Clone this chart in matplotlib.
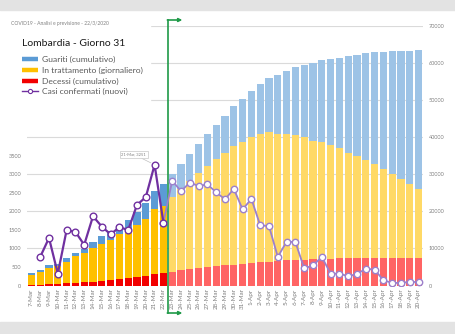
import matplotlib
matplotlib.use('Agg')
import matplotlib.pyplot as plt
import numpy as np
from matplotlib.lines import Line2D
from matplotlib.patches import Rectangle
from matplotlib.transforms import blended_transform_factory

# Lombardia: dati reali fino al 22-Mar, poi previsione
giorni = ['7-Mar', '8-Mar', '9-Mar', '10-Mar', '11-Mar', '12-Mar', '13-Mar', '14-Mar',
          '15-Mar', '16-Mar', '17-Mar', '18-Mar', '19-Mar', '20-Mar', '21-Mar', '22-Mar',
          '23-Mar', '24-Mar', '25-Mar', '26-Mar', '27-Mar', '28-Mar', '29-Mar', '30-Mar',
          '31-Mar', '1-Apr', '2-Apr', '3-Apr', '4-Apr', '5-Apr', '6-Apr', '7-Apr', '8-Apr',
          '9-Apr', '10-Apr', '11-Apr', '12-Apr', '13-Apr', '14-Apr', '15-Apr', '16-Apr',
          '17-Apr', '18-Apr', '19-Apr', '20-Apr']
n_reali = 16

guariti = [524, 550, 646, 646, 896, 900, 1198, 1660, 2011, 2368, 2485, 2988, 3488, 4235, 4907, 5865,
           6050, 6770, 7260, 7820, 8450, 9160, 9800, 10600, 11510, 12400, 13480, 14450, 15630,
           16900, 18240, 19300, 20940, 21910, 23100, 24370, 25870, 27150, 28650, 30110, 31590,
           33120, 34400, 35670, 37320]
in_trattamento = [2742, 3372, 4490, 4677, 5767, 7081, 7732, 9059, 10043, 10861, 12095, 12766,
                  14228, 15480, 17513, 17885,
                  20150, 21850, 23760, 25620, 27410, 28950, 30400, 31960, 32890, 34020, 34480,
                  34850, 34320, 34090, 33780, 32960, 31860, 31500, 30620, 29670, 28440, 27500,
                  26400, 25300, 23880, 22420, 21130, 19960, 18470]
decessi = [154, 267, 333, 468, 617, 744, 890, 966, 1218, 1420, 1640, 1959, 2168, 2549, 3095, 3456,
           3750, 4050, 4340, 4620, 4890, 5150, 5400, 5640, 5870, 6080, 6270, 6440, 6600, 6740,
           6870, 6990, 7090, 7180, 7250, 7310, 7360, 7400, 7430, 7450, 7470, 7480, 7490, 7495,
           7500]
casi_nuovi = [np.nan, 769, 1280, 322, 1489, 1445, 1095, 1865, 1587, 1377, 1571, 1493, 2171,
              2380, 3251, 1691,
              2820, 2540, 2770, 2680, 2720, 2510, 2320, 2600, 2050, 2330, 1620, 1600, 770, 1180,
              1170, 460, 540, 770, 320, 320, 250, 310, 450, 430, 140, 70, 70, 100, 90]

plt.rcParams['font.family'] = ['Lato', 'DejaVu Sans']

W, H = 455, 334
fig = plt.figure(figsize=(W / 100, H / 100), dpi=100)

# cornice grigia sopra e sotto
fig.patches.append(Rectangle((0, 1 - 10 / H), 1, 10 / H, transform=fig.transFigure,
                             color='#e3e3e3', zorder=0))
fig.patches.append(Rectangle((0, 0), 1, 12 / H, transform=fig.transFigure,
                             color='#e3e3e3', zorder=0))

ax = fig.add_axes([27 / W, 1 - 285.5 / H, 396 / W, 260 / H])
x = np.arange(len(giorni))
n_prev = len(giorni) - n_reali

col_g = ['#5b9bd5'] * n_reali + ['#9dc3e6'] * n_prev
col_t = ['#ffc000'] * n_reali + ['#ffd966'] * n_prev
col_d = ['#f20000'] * n_reali + ['#ff6464'] * n_prev

dec = np.array(decessi)
tra = np.array(in_trattamento)
gua = np.array(guariti)
w = 0.84
ax.bar(x, dec, width=w, color=col_d, zorder=1)
ax.bar(x, tra, width=w, bottom=dec, color=col_t, zorder=1)
ax.bar(x, gua, width=w, bottom=dec + tra, color=col_g, zorder=1)

ax.set_xlim(-0.5, len(giorni) - 0.5)
ax.set_ylim(0, 70000)
ax.set_yticks(range(0, 70001, 10000))
ax.grid(axis='y', color='#dadada', lw=0.8)
ax.set_axisbelow(True)
ax.set_xticks(x)
ax.set_xticklabels(giorni, rotation=90, fontsize=4.5, color='#7f7f7f')
for s in ax.spines.values():
    s.set_visible(False)

# zona bianca dietro titolo e legenda
ax.add_patch(Rectangle((-0.1, 0.675), 0.41, 0.4, transform=ax.transAxes, color='white',
                       zorder=0.8, clip_on=False))

ax2 = ax.twinx()
ax.yaxis.tick_right()
ax2.yaxis.tick_left()
ax.tick_params(axis='y', length=0, labelsize=4, labelcolor='#808080', pad=4)
ax.tick_params(axis='x', length=0, pad=2)
ax2.set_ylim(0, 7000)
ax2.set_yticks(range(0, 3501, 500))
ax2.tick_params(axis='y', length=0, labelsize=4, labelcolor='#808080', pad=4)
for s in ax2.spines.values():
    s.set_visible(False)

casi = np.array(casi_nuovi)
ax2.plot(x[n_reali - 1:], casi[n_reali - 1:], color='#9c80cc', lw=1.3, marker='o', ms=4.6,
         mfc='white', mec='#9c80cc', mew=1.0, zorder=2)
ax2.plot(x[:n_reali], casi[:n_reali], color='#7030a0', lw=1.6, marker='o', ms=4.8,
         mfc='white', mec='#7030a0', mew=1.0, zorder=3)

# etichetta del massimo
i_max = int(np.nanargmax(casi[:n_reali]))
ax2.annotate(f'{giorni[i_max]}, {int(casi[i_max])}', xy=(x[i_max], casi[i_max]),
             xytext=(-15, 7.5), textcoords='offset points', ha='center', va='center',
             fontsize=2.9, color='#7f7f7f',
             bbox=dict(boxstyle='square,pad=0.45', fc='white', ec='#c8c8c8', lw=0.5),
             arrowprops=dict(arrowstyle='-', color='#bfbfbf', lw=0.5, shrinkA=0, shrinkB=3))

# separatore reale / previsione
verde = '#1f9a48'
xs = n_reali - 0.5
y_top, y_bot = 1 - 20 / H, 1 - 313 / H
blend = blended_transform_factory(ax.transData, fig.transFigure)
ax.add_line(Line2D([xs, xs], [y_top, y_bot], transform=blend, color=verde, lw=1.2,
                   clip_on=False, zorder=5))
for yy in (y_top, y_bot):
    ax.annotate('', xy=(xs + 1.65, yy), xytext=(xs - 0.05, yy),
                xycoords=('data', 'figure fraction'), textcoords=('data', 'figure fraction'),
                arrowprops=dict(arrowstyle='-|>', color=verde, lw=1.2, mutation_scale=5,
                                shrinkA=0, shrinkB=0),
                annotation_clip=False, zorder=5)

fig.text(11 / W, 1 - 24 / H, 'COVID19 - Analisi e previsione - 22/3/2020', fontsize=3.6,
         color='#808080', va='center')
fig.text(22 / W, 1 - 43 / H, 'Lombardia - Giorno 31', fontsize=7.5, color='#1a1a1a',
         va='center')

handles = [Line2D([], [], color='#5b9bd5', lw=3.2, solid_capstyle='butt'),
           Line2D([], [], color='#ffc000', lw=3.2, solid_capstyle='butt'),
           Line2D([], [], color='#f20000', lw=3.2, solid_capstyle='butt'),
           Line2D([], [], color='#7030a0', lw=1.0, marker='o', ms=3, mfc='white',
                  mec='#7030a0', mew=0.8)]
labels = ['Guariti (cumulativo)', 'In trattamento (giornaliero)', 'Decessi (cumulativo)',
          'Casi confermati (nuovi)']
fig.legend(handles, labels, loc='upper left', bbox_to_anchor=(22 / W, 1 - 56 / H),
           frameon=False, fontsize=6.1, labelcolor='#595959', handlelength=1.9,
           handletextpad=0.5, labelspacing=0.42, borderpad=0, borderaxespad=0)

fig.savefig('out.png', dpi=100)
